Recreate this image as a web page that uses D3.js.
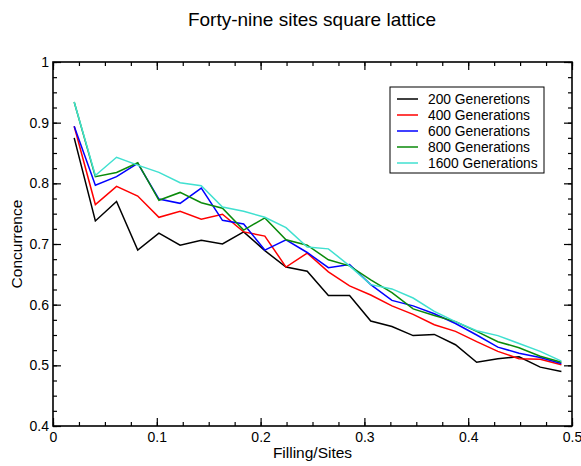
<!DOCTYPE html>
<html>
<head>
<meta charset="utf-8">
<script src="https://cdn.jsdelivr.net/npm/d3@7"></script>
<style>
  body { margin: 0; background: #fff; }
  svg { font-family: "Liberation Sans", Arial, sans-serif; }
</style>
</head>
<body>
<div id="chart"></div>
<script>
// filling = k / 49, k = 1..24
const filling = d3.range(1, 25).map(k => k / 49);

const gen200 = [0.875, 0.738, 0.770, 0.690, 0.718, 0.698, 0.706, 0.700, 0.720, 0.689, 0.662, 0.655,
  0.615, 0.615, 0.573, 0.564, 0.549, 0.551, 0.534, 0.505, 0.511, 0.514, 0.497, 0.490];
const gen400 = [0.894, 0.765, 0.795, 0.779, 0.744, 0.754, 0.741, 0.749, 0.720, 0.713, 0.662, 0.685,
  0.654, 0.631, 0.616, 0.598, 0.584, 0.567, 0.556, 0.539, 0.523, 0.511, 0.510, 0.501];
const gen600 = [0.894, 0.797, 0.811, 0.833, 0.774, 0.767, 0.792, 0.739, 0.733, 0.690, 0.707, 0.686,
  0.661, 0.666, 0.633, 0.607, 0.598, 0.585, 0.569, 0.550, 0.530, 0.520, 0.513, 0.503];
const gen800 = [0.934, 0.811, 0.818, 0.834, 0.772, 0.785, 0.768, 0.759, 0.723, 0.743, 0.707, 0.698,
  0.674, 0.664, 0.641, 0.620, 0.593, 0.582, 0.572, 0.556, 0.539, 0.529, 0.515, 0.505];
const gen1600 = [0.934, 0.813, 0.843, 0.830, 0.818, 0.801, 0.796, 0.761, 0.754, 0.744, 0.727, 0.695,
  0.692, 0.664, 0.633, 0.626, 0.611, 0.589, 0.572, 0.557, 0.549, 0.536, 0.523, 0.507];

const seriesNames = ['200 Generetions', '400 Generations', '600 Generations', '800 Generations', '1600 Generations'];
const seriesColors = ['#000000', '#ff0000', '#0000ff', '#0a8a0a', '#40e0d0'];
const seriesValues = [gen200, gen400, gen600, gen800, gen1600];

const xTicks = [0, 0.1, 0.2, 0.3, 0.4, 0.5];
const yTicks = [0.4, 0.5, 0.6, 0.7, 0.8, 0.9, 1];

const width = 581, height = 466;
const margin = { top: 62, right: 9, bottom: 40, left: 53 };
const innerW = width - margin.left - margin.right;
const innerH = height - margin.top - margin.bottom;

const svg = d3.select('#chart').append('svg')
  .attr('width', width)
  .attr('height', height);

const g = svg.append('g')
  .attr('transform', `translate(${margin.left},${margin.top})`);

const x = d3.scaleLinear().domain([0, 0.5]).range([0, innerW]);
const y = d3.scaleLinear().domain([0.4, 1]).range([innerH, 0]);

const fmt = d => d === 0 ? '0' : d === 1 ? '1' : d3.format('.1f')(d);
const minorX = d3.range(0, 0.5001, 0.025);
const minorY = d3.range(0.4, 1.0001, 0.025);

// axes: major ticks inside, minor ticks inside, on all four sides
function styleAxis(sel) {
  sel.select('.domain').remove();
  sel.selectAll('line').attr('stroke', '#000').attr('stroke-width', 1.2);
  sel.selectAll('text').attr('fill', '#000').attr('font-size', 14);
}

g.append('g').attr('transform', `translate(0,${innerH})`)
  .call(d3.axisBottom(x).tickValues(minorX).tickSize(-4).tickFormat(''))
  .call(styleAxis);
g.append('g').attr('transform', `translate(0,${innerH})`)
  .call(d3.axisBottom(x).tickValues(xTicks).tickSize(-8).tickPadding(6).tickFormat(fmt))
  .call(styleAxis);
g.append('g')
  .call(d3.axisTop(x).tickValues(minorX).tickSize(-4).tickFormat(''))
  .call(styleAxis);
g.append('g')
  .call(d3.axisTop(x).tickValues(xTicks).tickSize(-8).tickFormat(''))
  .call(styleAxis);

g.append('g')
  .call(d3.axisLeft(y).tickValues(minorY).tickSize(-4).tickFormat(''))
  .call(styleAxis);
g.append('g')
  .call(d3.axisLeft(y).tickValues(yTicks).tickSize(-8).tickPadding(4).tickFormat(fmt))
  .call(styleAxis);
g.append('g').attr('transform', `translate(${innerW},0)`)
  .call(d3.axisRight(y).tickValues(minorY).tickSize(-4).tickFormat(''))
  .call(styleAxis);
g.append('g').attr('transform', `translate(${innerW},0)`)
  .call(d3.axisRight(y).tickValues(yTicks).tickSize(-8).tickFormat(''))
  .call(styleAxis);

// lines
const line = d3.line()
  .x((d, i) => x(filling[i]))
  .y(d => y(d));

g.selectAll('path.series')
  .data(seriesValues)
  .join('path')
  .classed('series', true)
  .attr('fill', 'none')
  .attr('stroke', (d, i) => seriesColors[i])
  .attr('stroke-width', 1.5)
  .attr('d', line);

// frame
g.append('rect')
  .attr('width', innerW)
  .attr('height', innerH)
  .attr('fill', 'none')
  .attr('stroke', '#000')
  .attr('stroke-width', 1.6);

// legend
const legend = svg.append('g').attr('transform', 'translate(390,87)');
legend.append('rect')
  .attr('width', 154)
  .attr('height', 86)
  .attr('fill', '#fff')
  .attr('stroke', '#000')
  .attr('stroke-width', 1);
const items = legend.selectAll('g.item')
  .data(seriesNames)
  .join('g')
  .classed('item', true)
  .attr('transform', (d, i) => `translate(0,${12 + i * 16})`);
items.append('line')
  .attr('x1', 7).attr('x2', 28)
  .attr('stroke', (d, i) => seriesColors[i])
  .attr('stroke-width', 1.5);
items.append('text')
  .attr('x', 38)
  .attr('dy', '0.35em')
  .attr('font-size', 13.8)
  .text(d => d);

// titles
svg.append('text')
  .attr('x', 312).attr('y', 26)
  .attr('text-anchor', 'middle')
  .attr('font-size', 19)
  .text('Forty-nine sites square lattice');

svg.append('text')
  .attr('x', margin.left + innerW / 2).attr('y', 458)
  .attr('text-anchor', 'middle')
  .attr('font-size', 15.5)
  .text('Filling/Sites');

svg.append('text')
  .attr('transform', `translate(22,${margin.top + innerH / 2}) rotate(-90)`)
  .attr('text-anchor', 'middle')
  .attr('font-size', 15.5)
  .text('Concurrence');
</script>
</body>
</html>
